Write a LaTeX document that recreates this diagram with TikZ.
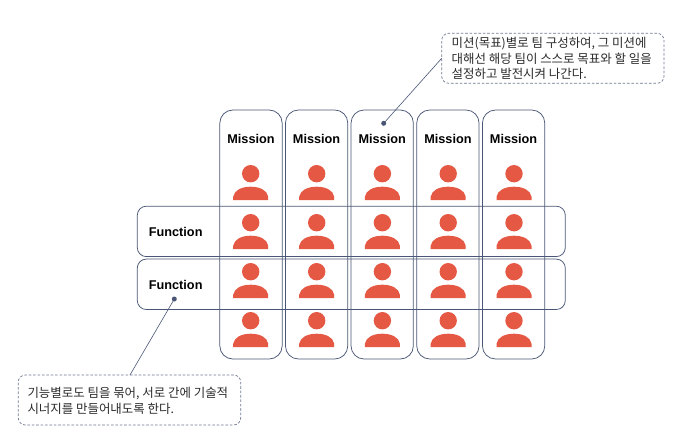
\documentclass[tikz,border=0pt]{standalone}
\usepackage{fontspec}
\setmainfont{Liberation Sans}
\newfontfamily\krfont{Noto Sans CJK KR}
\usetikzlibrary{calc}
\definecolor{edge}{HTML}{4A5675}
\definecolor{person}{HTML}{E55844}
\definecolor{note}{HTML}{2B2B2B}
\tikzset{
  x=1pt,y=-1pt,
  colbox/.style={draw=edge,line width=0.75pt,rounded corners=13pt,minimum width=62.3pt,minimum height=249pt,inner sep=0pt,outer sep=0pt},
  rowbox/.style={draw=edge,line width=0.75pt,rounded corners=9pt,minimum width=428pt,minimum height=50.4pt,inner sep=0pt,outer sep=0pt},
  titlelabel/.style={font=\fontsize{12.7}{14}\selectfont\bfseries,text=black,inner sep=0pt},
  notebox/.style={draw=edge!80,dashed,dash pattern=on 2.6pt off 1.8pt,line width=0.7pt,rounded corners=7pt,inner sep=0pt,outer sep=0pt,anchor=north west},
  notetext/.style={font=\krfont\fontsize{12.45}{15.8}\selectfont,text=note,align=left,inner sep=0pt,anchor=west},
  pin/.style={circle,fill=edge,draw=none,minimum size=5pt,inner sep=0pt},
  leader/.style={draw=edge,line width=0.6pt},
  pics/personicon/.style={code={
    \fill[person] (0,0) circle[radius=8.7];
    \fill[person] (-17.5,26.3) -- (-17.5,23) .. controls (-16.5,16.5) and (-9,13) .. (0,13) .. controls (9,13) and (16.5,16.5) .. (17.5,23) -- (17.5,26.3) -- cycle;
  }}
}
\begin{document}
\begin{tikzpicture}
\useasboundingbox (0,0) rectangle (700,441);
% people
\foreach \px in {250.7,316.7,382.4,448.2,514}{
  \foreach \py in {173.7,222.7,271.7,320.7}{
    \pic at (\px,\py) {personicon};
  }
}
% columns
\node[colbox] (c1) at (251,234.5) {};
\node[colbox] (c2) at (316.6,234.5) {};
\node[colbox] (c3) at (382.2,234.5) {};
\node[colbox] (c4) at (447.9,234.5) {};
\node[colbox] (c5) at (513.6,234.5) {};
\node[titlelabel] (m1) at (251,138.5) {Mission};
\node[titlelabel] (m2) at (316.6,138.5) {Mission};
\node[titlelabel] (m3) at (382.2,138.5) {Mission};
\node[titlelabel] (m4) at (447.9,138.5) {Mission};
\node[titlelabel] (m5) at (513.6,138.5) {Mission};
% rows
\node[rowbox] (r1) at (351.3,231.4) {};
\node[rowbox] (r2) at (351.3,284.3) {};
\node[titlelabel] (f1) at (175.7,232) {Function};
\node[titlelabel] (f2) at (175.7,285) {Function};
% callouts
\node[notebox,minimum width=222.3pt,minimum height=50pt] (n1) at (441.7,33.3) {};
\node[notetext] (t1) at (451.5,58.5) {미션(목표)별로 팀 구성하여, 그 미션에\\대해선 해당 팀이 스스로 목표와 할 일을\\설정하고 발전시켜 나간다.};
\node[notebox,minimum width=222.4pt,minimum height=50pt] (n2) at (18.3,375) {};
\node[notetext] (t2) at (27.3,400.5) {기능별로도 팀을 묶어, 서로 간에 기술적\\시너지를 만들어내도록 한다.};
% leaders
\node[pin] (d1) at (383.7,123.3) {};
\node[pin] (d2) at (174.3,299) {};
\coordinate (e2) at ($(n2.north west)+(111.7,0)$);
\draw[leader] (d1.center) -- (n1.west);
\draw[leader] (d2.center) -- (e2);
\end{tikzpicture}
\end{document}
